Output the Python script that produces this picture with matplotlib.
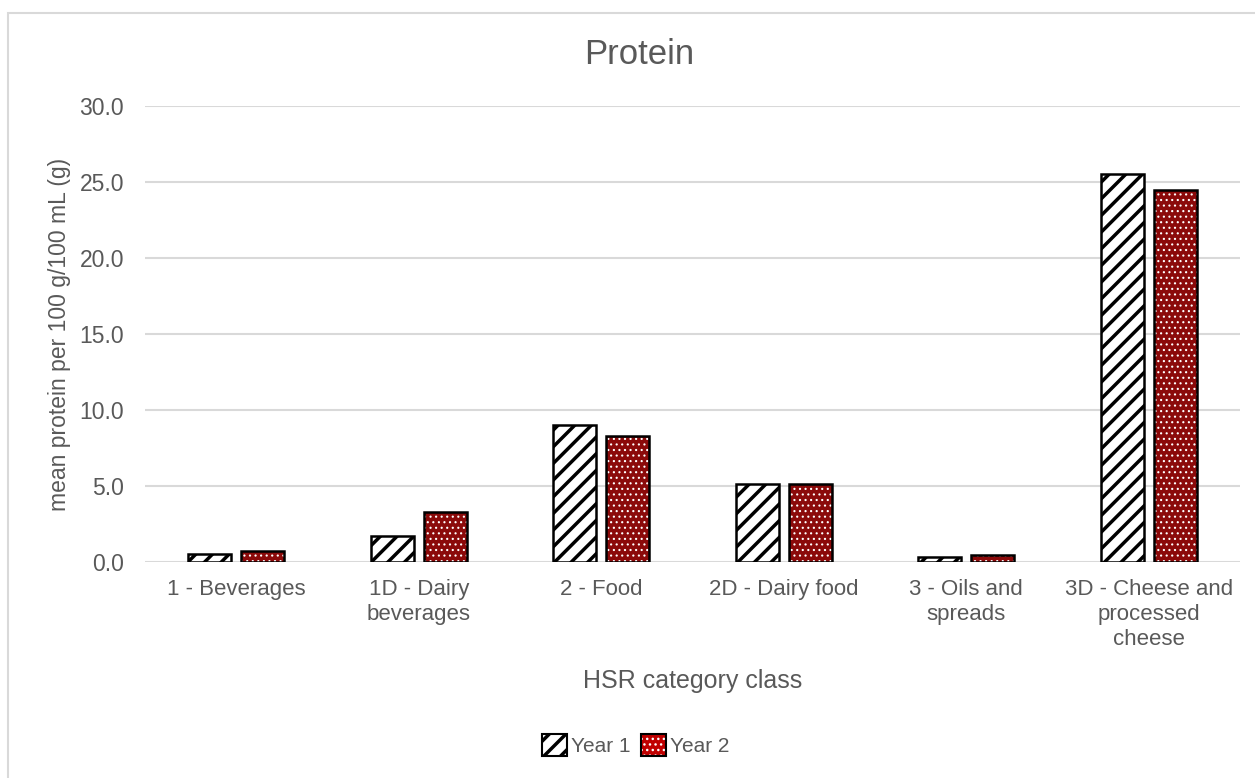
import matplotlib.pyplot as plt
from matplotlib.patches import Patch, Rectangle
from matplotlib.legend_handler import HandlerTuple
import numpy as np

categories = ['1 - Beverages', '1D - Dairy\nbeverages', '2 - Food', '2D - Dairy food',
              '3 - Oils and\nspreads', '3D - Cheese and\nprocessed\ncheese']
year1 = [0.5, 1.7, 9.0, 5.1, 0.35, 25.5]
year2 = [0.7, 3.3, 8.3, 5.1, 0.45, 24.5]
yticks = [0, 5, 10, 15, 20, 25, 30]

plt.rcParams['font.family'] = ['Liberation Sans', 'DejaVu Sans']
grey = '#595959'
red = '#8b0a0a'

fig = plt.figure(figsize=(12.55, 7.78), dpi=100)
ax = fig.add_axes([145 / 1255, 1 - 562 / 778, (1240 - 145) / 1255, (562 - 106) / 778])

# outer chart border
fig.patches.append(Rectangle((8 / 1255, -0.05), 1.1, 1 - 13 / 778 + 0.05,
                             transform=fig.transFigure, fill=False,
                             edgecolor='#d9d9d9', linewidth=1.5))

x = np.arange(len(categories))
w = 0.235
off = 0.145

with plt.rc_context({'hatch.linewidth': 2.5}):
    ax.bar(x - off, year1, w, color='white', edgecolor='black', hatch='//', linewidth=0)
with plt.rc_context({'hatch.linewidth': 0.8}):
    ax.bar(x + off, year2, w, color=red, edgecolor='white', hatch='...', linewidth=0)
ax.bar(x - off, year1, w, fill=False, edgecolor='black', linewidth=1.8)
ax.bar(x + off, year2, w, fill=False, edgecolor='black', linewidth=1.8)

ax.set_ylim(0, 30)
ax.set_xlim(-0.5, len(categories) - 0.5)
ax.set_yticks(yticks)
ax.set_yticklabels(['%.1f' % v for v in yticks])
ax.set_xticks(x)
ax.set_xticklabels(categories, linespacing=1.25)
ax.tick_params(length=0, labelsize=16, colors=grey, pad=12)
ax.tick_params(axis='y', labelsize=16.5, pad=15)
ax.grid(axis='y', color='#d9d9d9', linewidth=1.5)
ax.set_axisbelow(True)
for s in ax.spines.values():
    s.set_visible(False)

fig.text(639 / 1255, 1 - 55 / 778, 'Protein', fontsize=25, color=grey, ha='center', va='center')
ax.set_xlabel('HSR category class', fontsize=18, color=grey, labelpad=14)
ax.set_ylabel('mean protein per 100 g/100 mL (g)', fontsize=16.5, color=grey, labelpad=6)

# legend: hatched fill + black outline overlaid
h1 = (Patch(facecolor='white', edgecolor='black', hatch='//', linewidth=0),
      Patch(fill=False, edgecolor='black', linewidth=1.5))
h2 = (Patch(facecolor='#c00000', edgecolor='white', hatch='...', linewidth=0),
      Patch(fill=False, edgecolor='black', linewidth=1.5))
leg = fig.legend(handles=[h1, h2], labels=['Year 1', 'Year 2'],
                 handler_map={tuple: HandlerTuple(ndivide=1, pad=0)},
                 loc='center', bbox_to_anchor=(636 / 1255, 1 - 745 / 778),
                 ncol=2, frameon=False, fontsize=15, handlelength=1.2, handleheight=1.3,
                 handletextpad=0.2, columnspacing=0.5)
for t in leg.get_texts():
    t.set_color(grey)
for p in leg.get_patches():
    if p.get_hatch() == '//':
        lw = 2.5
    elif p.get_hatch() == '...':
        lw = 1.0
    else:
        continue
    if hasattr(p, 'set_hatch_linewidth'):
        p.set_hatch_linewidth(lw)
    else:
        p._hatch_linewidth = lw

fig.savefig('out.png', dpi=100)
